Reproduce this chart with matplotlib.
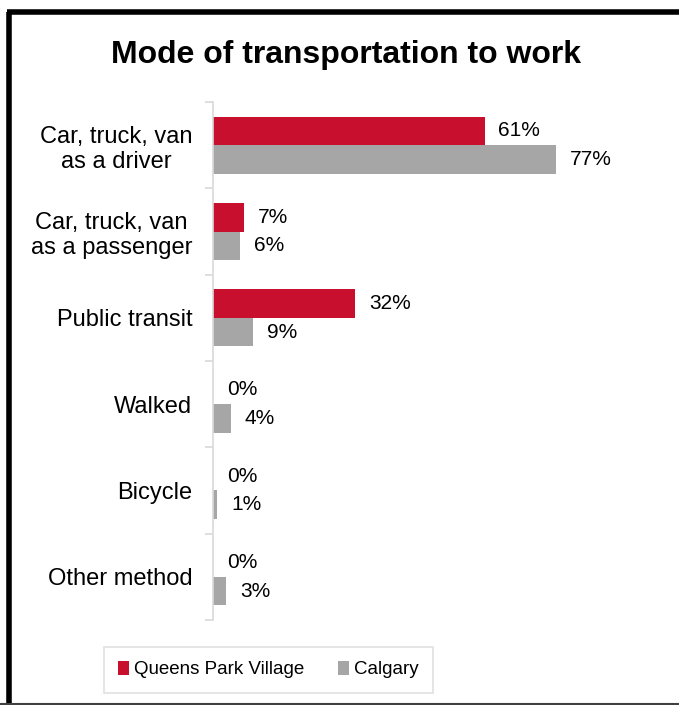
import numpy as np
import matplotlib
matplotlib.use("Agg")
import matplotlib.pyplot as plt
from matplotlib.lines import Line2D

plt.rcParams["font.family"] = ["Liberation Sans", "DejaVu Sans"]

categories = ["Car, truck, van\nas a driver", "Car, truck, van\nas a passenger",
              "Public transit", "Walked", "Bicycle", "Other method"]
queens_park = [61, 7, 32, 0, 0, 0]
calgary = [77, 6, 9, 4, 1, 3]
series_names = ["Queens Park Village", "Calgary"]

RED = "#C8102E"
GREY = "#A6A6A6"

fig = plt.figure(figsize=(6.79, 7.05), dpi=100)
ax = fig.add_axes([0.3137, 0.1206, 0.59, 0.7347])

y = np.arange(len(categories))
h = 0.33
b1 = ax.barh(y - h / 2, queens_park, height=h, color=RED, label=series_names[0])
b2 = ax.barh(y + h / 2, calgary, height=h, color=GREY, label=series_names[1])

for bars, vals in ((b1, queens_park), (b2, calgary)):
    for bar, v in zip(bars, vals):
        ax.annotate(f"{v}%", (bar.get_width(), bar.get_y() + bar.get_height() / 2),
                    xytext=(10, 0), textcoords="offset points",
                    ha="left", va="center", fontsize=15)

ax.set_xlim(0, 90)
ax.set_ylim(len(categories) - 0.5, -0.5)
ax.set_yticks(y)
ax.set_yticklabels(categories, fontsize=17, ha="right", multialignment="center")
ax.tick_params(axis="y", which="major", length=0, pad=15)
ax.set_yticks(np.arange(len(categories) + 1) - 0.5, minor=True)
ax.tick_params(axis="y", which="minor", length=6, color="#d9d9d9", width=1.2)
ax.set_xticks([])
for s in ("top", "right", "bottom"):
    ax.spines[s].set_visible(False)
ax.spines["left"].set_color("#d9d9d9")
ax.spines["left"].set_linewidth(1.2)

fig.text(0.51, 0.922, "Mode of transportation to work", ha="center", va="center",
         fontsize=23, fontweight="bold")

leg = fig.legend(handles=[b1, b2], loc="center", bbox_to_anchor=(0.395, 0.05),
                 ncol=2, fontsize=13.5, frameon=True, fancybox=False,
                 handlelength=0.6, handleheight=0.75, handletextpad=0.25,
                 columnspacing=1.8, borderpad=0.75)
leg.get_frame().set_edgecolor("#d9d9d9")
leg.get_frame().set_linewidth(1.2)

# outer frame (thick black on left/top, thin dark line at bottom)
fig.add_artist(Line2D([0.0133, 0.0133], [0.0, 0.983], color="black", lw=4,
                      transform=fig.transFigure, solid_capstyle="butt"))
fig.add_artist(Line2D([0.0104, 1.0], [0.9823, 0.9823], color="black", lw=4,
                      transform=fig.transFigure, solid_capstyle="butt"))
fig.add_artist(Line2D([0.0, 1.0], [0.002, 0.002], color="#404040", lw=1.5,
                      transform=fig.transFigure))

fig.savefig("out.png", dpi=100)
